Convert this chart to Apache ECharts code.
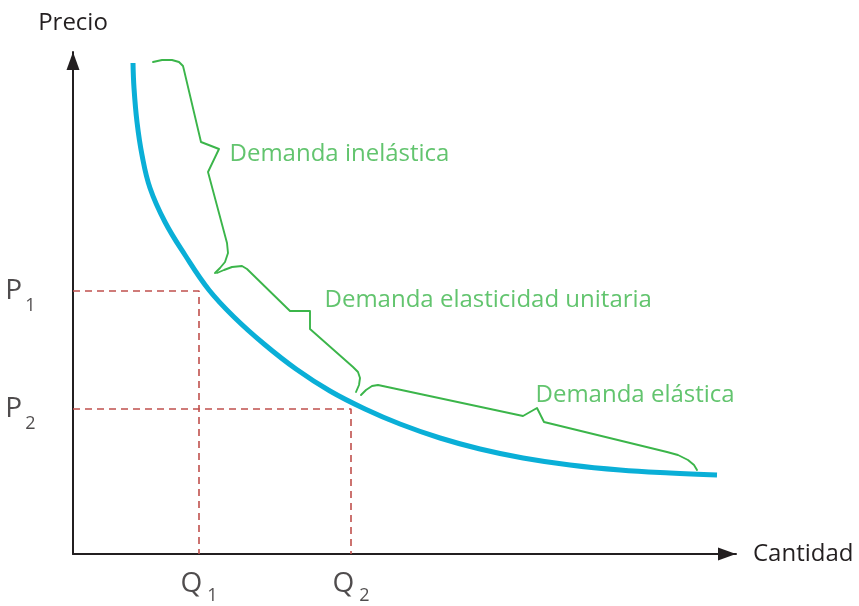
<!DOCTYPE html>
<html>
<head>
<meta charset="utf-8">
<script src="https://cdn.jsdelivr.net/npm/echarts@6/dist/echarts.min.js"></script>
<style>
html,body{margin:0;padding:0;background:#fff;}
#chart{width:859px;height:606px;}
</style>
</head>
<body>
<div id="chart"></div>
<script>
// ---- Data (quantity / price units) ----
const axisNames = ['Cantidad', 'Precio'];
const qMax = 663;
const pMax = 502;

// demand curve
const curveQ = [60, 61, 64, 69, 77, 92, 112, 136, 162, 191, 223, 257, 292, 327, 367, 407, 450, 497, 547, 597, 644];
const curveP = [491, 466, 432, 399, 366, 332, 299, 264, 236, 210, 185, 163, 145, 130, 116, 105, 96, 89, 84, 81, 79];

// reference levels
const levelNames = ['1', '2'];
const levelQ = [126, 278];
const levelP = [263, 145];

// braces (annotation strokes)
const brace1Q = [80, 89, 99, 106, 110, 111, 128, 146, 135, 154, 155, 152, 147, 142];
const brace1P = [492, 494, 494, 492, 488, 484, 412, 405, 382, 311, 301, 292, 286, 281];
const brace2Q = [144, 151, 159, 169, 174, 217, 237, 237, 280, 285, 287, 286, 283];
const brace2P = [281, 284, 287, 288, 285, 243, 243, 225, 187, 182, 176, 169, 162];
const brace3Q = [288, 293, 299, 305, 450, 464, 471, 594, 605, 615, 621, 624];
const brace3P = [159, 164, 168, 169, 138, 146, 132, 102, 99, 94, 89, 84];

// brace labels
const braceLabels = ['Demanda inelástica', 'Demanda elasticidad unitaria', 'Demanda elástica'];
const braceLabelQ = [156, 251, 462];
const braceLabelP = [400, 254, 159];

// ---- Build ----
const FONT = 'Open Sans';
const INK = '#231f20';
const BLUE = '#0aafd7';
const GREEN = '#3bb54a';
const RED = '#c0504d';

const zip = (a, b) => a.map((v, i) => [v, b[i]]);

const dashStyle = { color: RED, width: 1.6, type: [7, 5] };

const series = [];

// dashed guides
levelQ.forEach((q, i) => {
  series.push({
    type: 'line', data: [[0, levelP[i]], [q, levelP[i]], [q, 0]],
    symbol: 'none', silent: true, lineStyle: dashStyle, z: 1, clip: false
  });
});

// demand curve
series.push({
  type: 'line', data: zip(curveQ, curveP), smooth: 0.4,
  symbol: 'none', lineStyle: { color: BLUE, width: 5, cap: 'butt' }, z: 3, clip: false
});

// braces
[[brace1Q, brace1P], [brace2Q, brace2P], [brace3Q, brace3P]].forEach(b => {
  series.push({
    type: 'line', data: zip(b[0], b[1]), smooth: false,
    symbol: 'none', lineStyle: { color: GREEN, width: 1.9, join: 'round', cap: 'round' }, z: 2, clip: false
  });
});

// brace labels
series.push({
  type: 'scatter', symbolSize: 1, itemStyle: { color: 'rgba(0,0,0,0)' }, silent: true, clip: false,
  data: braceLabels.map((t, i) => ({ name: t, value: [braceLabelQ[i], braceLabelP[i]] })),
  label: {
    show: true, position: 'right', distance: 0, formatter: p => p.name,
    color: GREEN, fontFamily: FONT, fontSize: 24
  }
});

// P labels on price axis
series.push({
  type: 'scatter', symbolSize: 1, itemStyle: { color: 'rgba(0,0,0,0)' }, silent: true, clip: false,
  data: levelNames.map((n, i) => ({ name: n, value: [0, levelP[i]] })),
  label: {
    show: true, position: 'left', distance: 37, offset: [0, 5],
    formatter: p => '{m|P}{s|' + p.name + '}',
    rich: {
      m: { fontFamily: FONT, fontSize: 28, color: INK, verticalAlign: 'top' },
      s: { fontFamily: FONT, fontSize: 18, color: INK, verticalAlign: 'top', padding: [20, 0, 0, 3] }
    }
  }
});

// Q labels on quantity axis
series.push({
  type: 'scatter', symbolSize: 1, itemStyle: { color: 'rgba(0,0,0,0)' }, silent: true, clip: false,
  data: levelNames.map((n, i) => ({ name: n, value: [levelQ[i], 0] })),
  label: {
    show: true, position: 'bottom', distance: 16,
    formatter: p => '{m|Q}{s|' + p.name + '}',
    rich: {
      m: { fontFamily: FONT, fontSize: 28, color: INK, verticalAlign: 'top' },
      s: { fontFamily: FONT, fontSize: 18, color: INK, verticalAlign: 'top', padding: [16, 0, 0, 5] }
    }
  }
});

const axisCommon = {
  type: 'value', min: 0,
  axisLine: {
    show: true, symbol: ['none', 'triangle'], symbolSize: [13, 18], symbolOffset: [0, -9],
    lineStyle: { color: INK, width: 2 }
  },
  axisTick: { show: false }, axisLabel: { show: false }, splitLine: { show: false },
  nameTextStyle: { fontFamily: FONT, fontSize: 24, color: INK }
};

const option = {
  animation: false,
  backgroundColor: '#fff',
  grid: { left: 73, top: 52, right: 123, bottom: 52, containLabel: false, outerBoundsMode: 'none' },
  xAxis: Object.assign({}, axisCommon, { max: qMax, name: axisNames[0], nameLocation: 'end', nameGap: 17 }),
  yAxis: Object.assign({}, axisCommon, { max: pMax, name: axisNames[1], nameLocation: 'end', nameGap: 17 }),
  series: series
};

const chart = echarts.init(document.getElementById('chart'), null, { renderer: 'canvas' });
chart.setOption(option);
</script>
</body>
</html>
